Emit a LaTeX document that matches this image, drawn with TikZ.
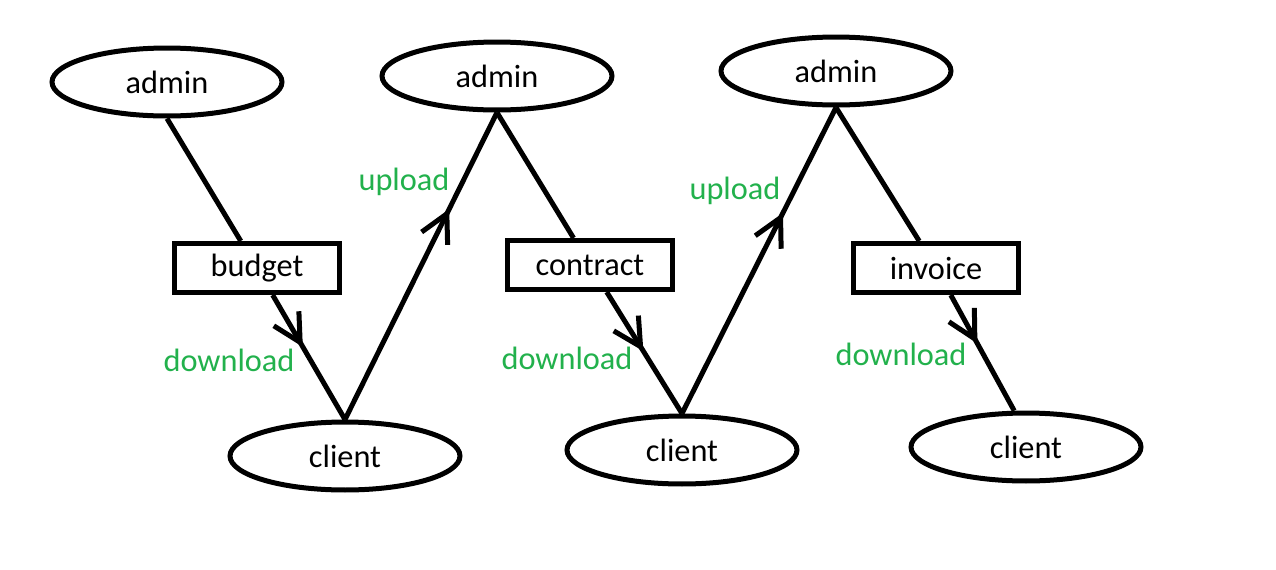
\documentclass[tikz,border=0pt]{standalone}
\usepackage{fontspec}
\setmainfont{Carlito}
\usepackage{tikz}
\usetikzlibrary{positioning}
\usetikzlibrary{shapes.geometric}
\usetikzlibrary{decorations.markings}
\definecolor{paintgreen}{RGB}{34,177,76}

\begin{document}
\begin{tikzpicture}[
x=0.02cm, y=-0.02cm,
line width=0.1cm,
every node/.style={font=\fontsize{18.4}{22}\selectfont},
ovalnode/.style={ellipse, draw, line width=0.1cm, minimum width=4.6cm, minimum height=1.36cm},
boxnode/.style={rectangle, draw, line width=0.1cm, minimum width=3.3cm, minimum height=0.98cm},
labelnode/.style={text=paintgreen},
midarrow/.style={postaction={decorate}, decoration={markings, mark=at position #1 with {\draw (-0.55cm,0.29cm) -- (0,0) -- (-0.55cm,-0.29cm);}}},
]
\useasboundingbox (0,0) rectangle (1276,569);

%Nodes
\node[ovalnode] (admin1)  at (167,82)  {admin};
\node[ovalnode] (admin2)  at (497,76)  {admin};
\node[ovalnode] (admin3)  at (836,71)  {admin};
\node[boxnode]  (budget)   at (257,268) {budget};
\node[boxnode]  (contract) at (590,265) {contract};
\node[boxnode]  (invoice)  at (936,268) {invoice};
\node[ovalnode] (client1) at (345,456) {client};
\node[ovalnode] (client2) at (682,450) {client};
\node[ovalnode] (client3) at (1026,447) {client};

%Labels
\node[labelnode] (up1) at (404,182) {upload};
\node[labelnode] (up2) at (735,191) {upload};
\node[labelnode] (dl1) at (229,360) {download};
\node[labelnode] (dl2) at (567,358) {download};
\node[labelnode] (dl3) at (901,354) {download};

%Lines
\draw (admin1.south) -- (budget);
\draw[midarrow=0.38] (budget) -- (client1.north);
\draw[midarrow=0.67] (client1.north) -- (admin2.south);
\draw (admin2.south) -- (contract);
\draw[midarrow=0.45] (contract) -- (client2.north);
\draw[midarrow=0.64] (client2.north) -- (admin3.south);
\draw (admin3.south) -- (invoice);
\draw[midarrow=0.38] (invoice) -- (client3.108);
\end{tikzpicture}
\end{document}
